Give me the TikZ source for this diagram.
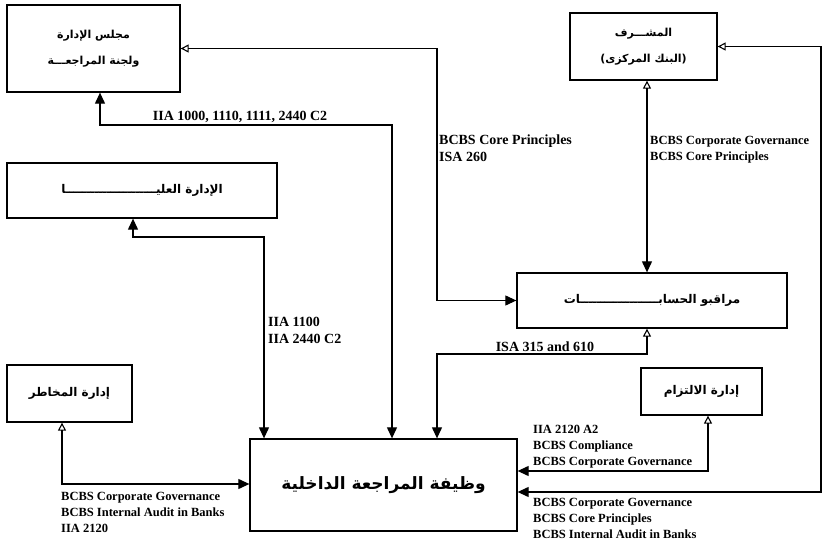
\documentclass[tikz,border=0pt]{standalone}
\usepackage{fontspec}
\setmainfont{Liberation Serif}
\newfontfamily\arabicfont[Script=Arabic]{DejaVu Sans}
\TeXXeTstate=1
\usetikzlibrary{arrows.meta,calc}
\tikzset{
  box/.style={draw, line width=1.3pt, inner sep=0pt, align=center, font=\arabicfont\bfseries\fontsize{11}{26}\selectfont},
  conn/.style={line width=1.1pt},
  ofill/.style={conn, {Triangle[open,length=8pt,width=8pt,line width=1.1pt]}-{Triangle[length=11pt,width=10pt]}},
  ffill/.style={conn, {Triangle[length=11pt,width=10pt]}-{Triangle[length=11pt,width=10pt]}},
  biglab/.style={inner sep=0pt, align=left, font=\bfseries\fontsize{14}{17}\selectfont},
  smalllab/.style={inner sep=0pt, align=left, font=\bfseries\fontsize{12.5}{16}\selectfont},
  midtext/.style={font=\arabicfont\bfseries\fontsize{12}{14}\selectfont},
}
\begin{document}
\begin{tikzpicture}[x=1pt,y=-1pt]
\useasboundingbox (0,0) rectangle (823,540);
% boxes
\node[box, minimum width=173pt, minimum height=87pt] (board) at (93.5,48.5)
  {\beginR مجلس الإدارة\endR\\\beginR ولجنة المراجعـــة\endR};
\node[box, minimum width=147pt, minimum height=67pt] (sup) at (643.5,46.5)
  {\beginR المشـــرف\endR\\\beginR (البنك المركزى)\endR};
\node[box, midtext, minimum width=270pt, minimum height=55pt] (top) at (142,190.5)
  {\beginR الإدارة العليــــــــــــــــــــــا\endR};
\node[box, midtext, minimum width=270pt, minimum height=55pt] (aud) at (652,300.5)
  {\beginR مراقبو الحسابـــــــــــــــــــات\endR};
\node[box, midtext, minimum width=125pt, minimum height=57pt] (risk) at (69.5,393.5)
  {\beginR إدارة المخاطر\endR};
\node[box, midtext, minimum width=121pt, minimum height=47pt] (comp) at (701.5,391.5)
  {\beginR إدارة الالتزام\endR};
\node[box, minimum width=267pt, minimum height=92pt, font=\arabicfont\bfseries\fontsize{17}{20}\selectfont] (ia) at (383.5,485)
  {\beginR وظيفة المراجعة الداخلية\endR};
% bend coordinates
\coordinate (xA) at (437,0);
\coordinate (xB1) at (100,0);
\coordinate (yB) at (0,125);
\coordinate (xB2) at (392,0);
\coordinate (xC1) at (133,0);
\coordinate (yC) at (0,237);
\coordinate (xC2) at (264,0);
\coordinate (xD) at (647,0);
\coordinate (xE) at (821,0);
\coordinate (yE) at (0,492);
\coordinate (yF) at (0,354);
\coordinate (xG) at (708,0);
\coordinate (yG) at (0,471);
\coordinate (xH) at (62,0);
\coordinate (yH) at (0,484);
% connectors
\draw[ofill] (board.east) -| (xA |- aud.west) -- (aud.west);
\draw[ffill] (xB1 |- board.south) -- (xB1 |- yB) -| (xB2 |- ia.north);
\draw[ffill] (xC1 |- top.south) -- (xC1 |- yC) -| (xC2 |- ia.north);
\draw[ofill] (xD |- sup.south) -- (xD |- aud.north);
\draw[ofill] (sup.east) -- (xE |- sup.east) |- (ia.east |- yE);
\draw[ofill] (xD |- aud.south) -- (xD |- yF) -| (xA |- ia.north);
\draw[ofill] (xG |- comp.south) |- (ia.east |- yG);
\draw[ofill] (xH |- risk.south) |- (ia.west |- yH);
% labels
\node[biglab, anchor=south] (l1) at (240,123) {IIA 1000, 1110, 1111, 2440 C2};
\node[biglab, anchor=north west] (l2) at (439,135) {BCBS Core Principles\\ISA 260};
\node[smalllab, anchor=north west] (l3) at (650,136) {BCBS Corporate Governance\\BCBS Core Principles};
\node[biglab, anchor=north west] (l4) at (268,317) {IIA 1100\\IIA 2440 C2};
\node[biglab, anchor=south] (l5) at (545,352) {ISA 315 and 610};
\node[smalllab, anchor=north west] (l6) at (533,425) {IIA 2120 A2\\BCBS Compliance\\BCBS Corporate Governance};
\node[smalllab, anchor=north west] (l7) at (533,498) {BCBS Corporate Governance\\BCBS Core Principles\\BCBS Internal Audit in Banks};
\node[smalllab, anchor=north west] (l8) at (61,492) {BCBS Corporate Governance\\BCBS Internal Audit in Banks\\IIA 2120};
\end{tikzpicture}
\end{document}
